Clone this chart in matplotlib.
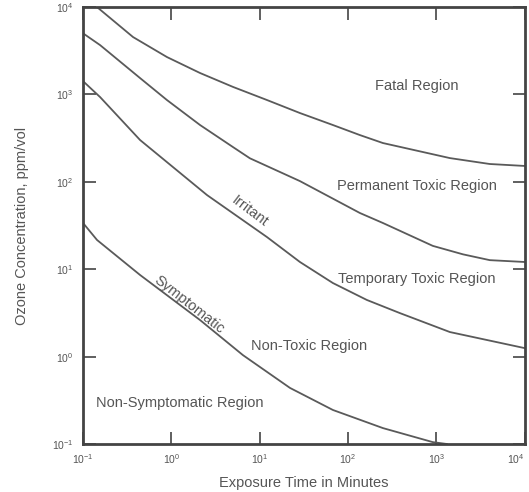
import numpy as np
import matplotlib
matplotlib.use("Agg")
import matplotlib.pyplot as plt

plt.rcParams['font.family'] = ['Liberation Sans', 'DejaVu Sans']
plt.rcParams['mathtext.fontset'] = 'custom'
plt.rcParams['mathtext.rm'] = 'Liberation Sans'
plt.rcParams['mathtext.it'] = 'Liberation Sans'

# boundary curves (minutes, ppm/vol)
fatal_x = [0.144, 0.368, 0.891, 2.11, 4.98, 12.1, 28.5, 67.3, 136, 248, 1420, 4020, 10000]
fatal_y = [10000, 4540, 2680, 1760, 1220, 863, 613, 447, 343, 278, 187, 160, 152]

perm_x = [0.1, 0.156, 0.442, 0.891, 2.11, 4.98, 7.74, 28.5, 136, 248, 910, 2000, 4020, 10000]
perm_y = [5010, 3670, 1540, 863, 447, 250, 186, 102, 44, 33.8, 18.5, 14.8, 12.7, 12.1]

irr_x = [0.1, 0.156, 0.442, 2.53, 12.1, 28.5, 67.3, 163, 385, 1420, 10000]
irr_y = [1420, 933, 301, 70.6, 23.3, 12.1, 6.95, 4.45, 3.15, 1.91, 1.25]

sym_x = [0.1, 0.144, 0.442, 2.11, 6.45, 22.0, 67.3, 248, 910, 1310]
sym_y = [33.8, 21.6, 8.59, 2.62, 1.04, 0.438, 0.245, 0.152, 0.105, 0.1]

ticks = [0.1, 1, 10, 100, 1000, 10000]
tick_labels = [r'$10^{-1}$', r'$10^{0}$', r'$10^{1}$', r'$10^{2}$', r'$10^{3}$', r'$10^{4}$']

line_col = '#5a5a5a'
text_col = '#555555'

fig = plt.figure(figsize=(5.29, 4.92), dpi=100)
ax = fig.add_axes([0.157, 0.0976, 0.835, 0.888])

for xs, ys in [(fatal_x, fatal_y), (perm_x, perm_y), (irr_x, irr_y), (sym_x, sym_y)]:
    ax.plot(xs, ys, color=line_col, lw=1.3, solid_joinstyle='round')

ax.set_xscale('log')
ax.set_yscale('log')
ax.set_xlim(0.1, 10000)
ax.set_ylim(0.1, 10000)
ax.set_xticks(ticks)
ax.set_yticks(ticks)
ax.set_xticklabels(tick_labels)
ax.set_yticklabels(tick_labels)
ax.get_xticklabels()[-1].set_ha('right')
ax.minorticks_off()
ax.tick_params(which='major', direction='in', length=9, width=1.2, color='#444444',
               top=True, right=True, labelsize=7.5, labelcolor=text_col)
ax.tick_params(axis='x', pad=6)
ax.tick_params(axis='y', pad=7)
for s in ax.spines.values():
    s.set_linewidth(2)
    s.set_color('#444444')

ax.set_xlabel('Exposure Time in Minutes', fontsize=10.5, color=text_col, labelpad=7)
ax.set_ylabel('Ozone Concentration, ppm/vol', fontsize=10.5, color=text_col, labelpad=16)

# region labels
kw = dict(fontsize=10.5, color=text_col, ha='center', va='center')
ax.text(600, 1250, 'Fatal Region', **kw)
ax.text(600, 89.5, 'Permanent Toxic Region', **kw)
ax.text(600, 7.73, 'Temporary Toxic Region', **kw)
ax.text(36, 1.32, 'Non-Toxic Region', **kw)
ax.text(1.25, 0.294, 'Non-Symptomatic Region', **kw)
ax.text(7.74, 46.4, 'Irritant', rotation=-37, **kw)
ax.text(1.58, 3.89, 'Symptomatic', rotation=-38, **kw)

fig.savefig('out.png', dpi=100)
